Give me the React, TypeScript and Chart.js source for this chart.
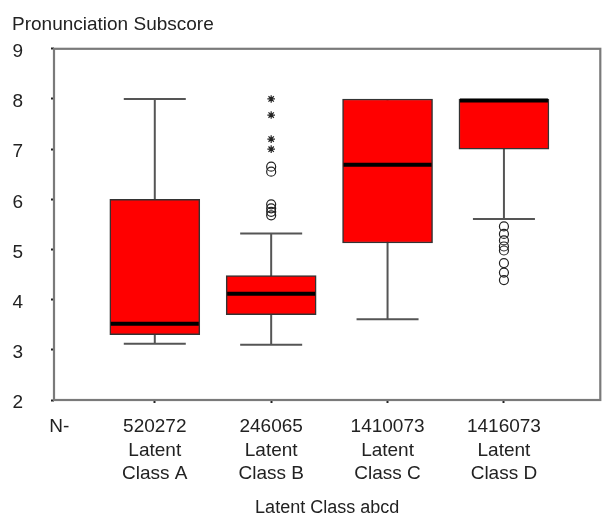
import React, { useEffect, useRef } from 'react';
import { Chart, registerables } from 'chart.js';

Chart.register(...registerables);

// ---- data ----
const yAxisTitle = 'Pronunciation Subscore';
const xAxisTitle = 'Latent Class abcd';
const nPrefixLabel = 'N-';
const nPrefixPosition = 0.18;
const positions = [1, 2, 3, 4];
const nCounts = ['520272', '246065', '1410073', '1416073'];
const classNames = [
  ['Latent', 'Class A'],
  ['Latent', 'Class B'],
  ['Latent', 'Class C'],
  ['Latent', 'Class D'],
];
const whiskerLow = [3.12, 3.1, 3.61, 5.61];
const q1 = [3.3, 3.7, 5.13, 7.0];
const median = [3.52, 4.12, 6.69, 8.0];
const q3 = [6.0, 4.48, 8.0, 8.0];
const whiskerHigh = [8.0, 5.32, 8.0, 8.0];
const circleOutliersB = [6.65, 6.55, 5.9, 5.82, 5.75, 5.68];
const starOutliersB = [8.0, 7.68, 7.2, 7.0];
const circleOutliersD = [5.46, 5.31, 5.18, 5.06, 4.98, 4.73, 4.54, 4.39];
const yMin = 2;
const yMax = 9;
const xMin = 0.134;
const xMax = 4.828;

const FONT = "'Liberation Sans', Arial, sans-serif";
const BOX_W = 90;
const CAP_W = 62;

const boxPlugin = {
  id: 'boxParts',
  beforeDatasetsDraw(chart: any) {
    const { ctx, chartArea, scales } = chart;
    const x = scales.x;
    const y = scales.y;
    ctx.save();
    // frame
    ctx.strokeStyle = '#7a7a7a';
    ctx.lineWidth = 2.2;
    ctx.strokeRect(chartArea.left, chartArea.top, chartArea.right - chartArea.left, chartArea.bottom - chartArea.top);
    // whiskers
    ctx.strokeStyle = '#555';
    ctx.lineWidth = 2;
    positions.forEach((p, i) => {
      const px = x.getPixelForValue(p);
      const yl = y.getPixelForValue(whiskerLow[i]);
      const yh = y.getPixelForValue(whiskerHigh[i]);
      ctx.beginPath();
      ctx.moveTo(px, yl);
      ctx.lineTo(px, yh);
      ctx.stroke();
      if (whiskerLow[i] < q1[i]) {
        ctx.beginPath();
        ctx.moveTo(px - CAP_W / 2, yl);
        ctx.lineTo(px + CAP_W / 2, yl);
        ctx.stroke();
      }
      if (whiskerHigh[i] > q3[i]) {
        ctx.beginPath();
        ctx.moveTo(px - CAP_W / 2, yh);
        ctx.lineTo(px + CAP_W / 2, yh);
        ctx.stroke();
      }
    });
    ctx.restore();
  },
  afterDatasetsDraw(chart: any) {
    const { ctx, scales } = chart;
    const x = scales.x;
    const y = scales.y;
    ctx.save();
    ctx.strokeStyle = '#000';
    ctx.lineWidth = 4;
    positions.forEach((p, i) => {
      const px = x.getPixelForValue(p);
      let ym = y.getPixelForValue(median[i]);
      if (median[i] >= q3[i]) ym += 1.5;
      ctx.beginPath();
      ctx.moveTo(px - BOX_W / 2 + 1, ym);
      ctx.lineTo(px + BOX_W / 2 - 1, ym);
      ctx.stroke();
    });
    ctx.restore();
  },
};

export default function App() {
  const ref = useRef<HTMLCanvasElement | null>(null);
  useEffect(() => {
    document.body.style.margin = '0';
    const canvas = ref.current;
    if (!canvas) return;
    const chart = new Chart(canvas, {
      type: 'bar',
      data: {
        datasets: [
          {
            type: 'scatter',
            label: 'outliers B (circle)',
            data: circleOutliersB.map((v) => ({ x: positions[1], y: v })),
            pointStyle: 'circle',
            pointRadius: 4.5,
            pointBackgroundColor: 'rgba(255,255,255,0)',
            pointBorderColor: '#222',
            pointBorderWidth: 1.2,
          } as any,
          {
            type: 'scatter',
            label: 'outliers B (star)',
            data: starOutliersB.map((v) => ({ x: positions[1], y: v })),
            pointStyle: 'star',
            pointRadius: 3.8,
            pointBorderColor: '#222',
            pointBorderWidth: 1.2,
          } as any,
          {
            type: 'scatter',
            label: 'outliers D',
            data: circleOutliersD.map((v) => ({ x: positions[3], y: v })),
            pointStyle: 'circle',
            pointRadius: 4.5,
            pointBackgroundColor: 'rgba(255,255,255,0)',
            pointBorderColor: '#222',
            pointBorderWidth: 1.2,
          } as any,
          {
            type: 'bar',
            label: 'box',
            data: positions.map((p, i) => ({ x: p, y: [q1[i], q3[i]] })) as any,
            backgroundColor: '#ff0000',
            borderColor: '#333',
            borderWidth: 1.5,
            borderSkipped: false,
            barThickness: BOX_W,
            grouped: false,
          } as any,
        ],
      },
      options: {
        responsive: false,
        animation: false,
        layout: { padding: { left: 12, right: 2, top: 0, bottom: 0 } },
        plugins: {
          legend: { display: false },
          tooltip: { enabled: false },
          title: {
            display: true,
            text: yAxisTitle,
            align: 'start',
            color: '#222',
            font: { family: FONT, size: 19, weight: 'normal' },
            padding: { top: 13, bottom: 13 },
          },
        },
        scales: {
          x: {
            type: 'linear',
            min: xMin,
            max: xMax,
            offset: false,
            afterBuildTicks: (scale: any) => {
              scale.ticks = [nPrefixPosition, ...positions].map((v) => ({ value: v }));
            },
            afterFit: (scale: any) => {
              scale.height = 119;
            },
            border: { display: false },
            grid: {
              offset: false,
              drawOnChartArea: false,
              drawTicks: true,
              tickLength: 3,
              tickWidth: 2,
              tickColor: (c: any) => (c.index === 0 ? 'rgba(0,0,0,0)' : '#222'),
            },
            ticks: {
              autoSkip: false,
              maxRotation: 0,
              padding: 12,
              color: '#222',
              font: { family: FONT, size: 19, lineHeight: 1.24 },
              callback: (_v: any, i: number) => (i === 0 ? nPrefixLabel : [nCounts[i - 1], ...classNames[i - 1]]),
            },
            title: {
              display: true,
              text: xAxisTitle,
              color: '#222',
              font: { family: FONT, size: 18, lineHeight: 1.2 },
              padding: { top: 0, bottom: 0 },
            },
          },
          y: {
            type: 'linear',
            min: yMin,
            max: yMax,
            afterFit: (scale: any) => {
              scale.width = 42;
            },
            border: { display: false },
            grid: {
              drawOnChartArea: false,
              drawTicks: true,
              tickLength: 3,
              tickWidth: 2,
              tickColor: '#222',
            },
            ticks: {
              stepSize: 1,
              padding: 28,
              labelOffset: 3,
              color: '#222',
              font: { family: FONT, size: 19 },
            },
          },
        },
      },
      plugins: [boxPlugin],
    } as any);
    return () => chart.destroy();
  }, []);
  return (
    <div style={{ width: 606, height: 519 }}>
      <canvas ref={ref} width={606} height={519} />
    </div>
  );
}
